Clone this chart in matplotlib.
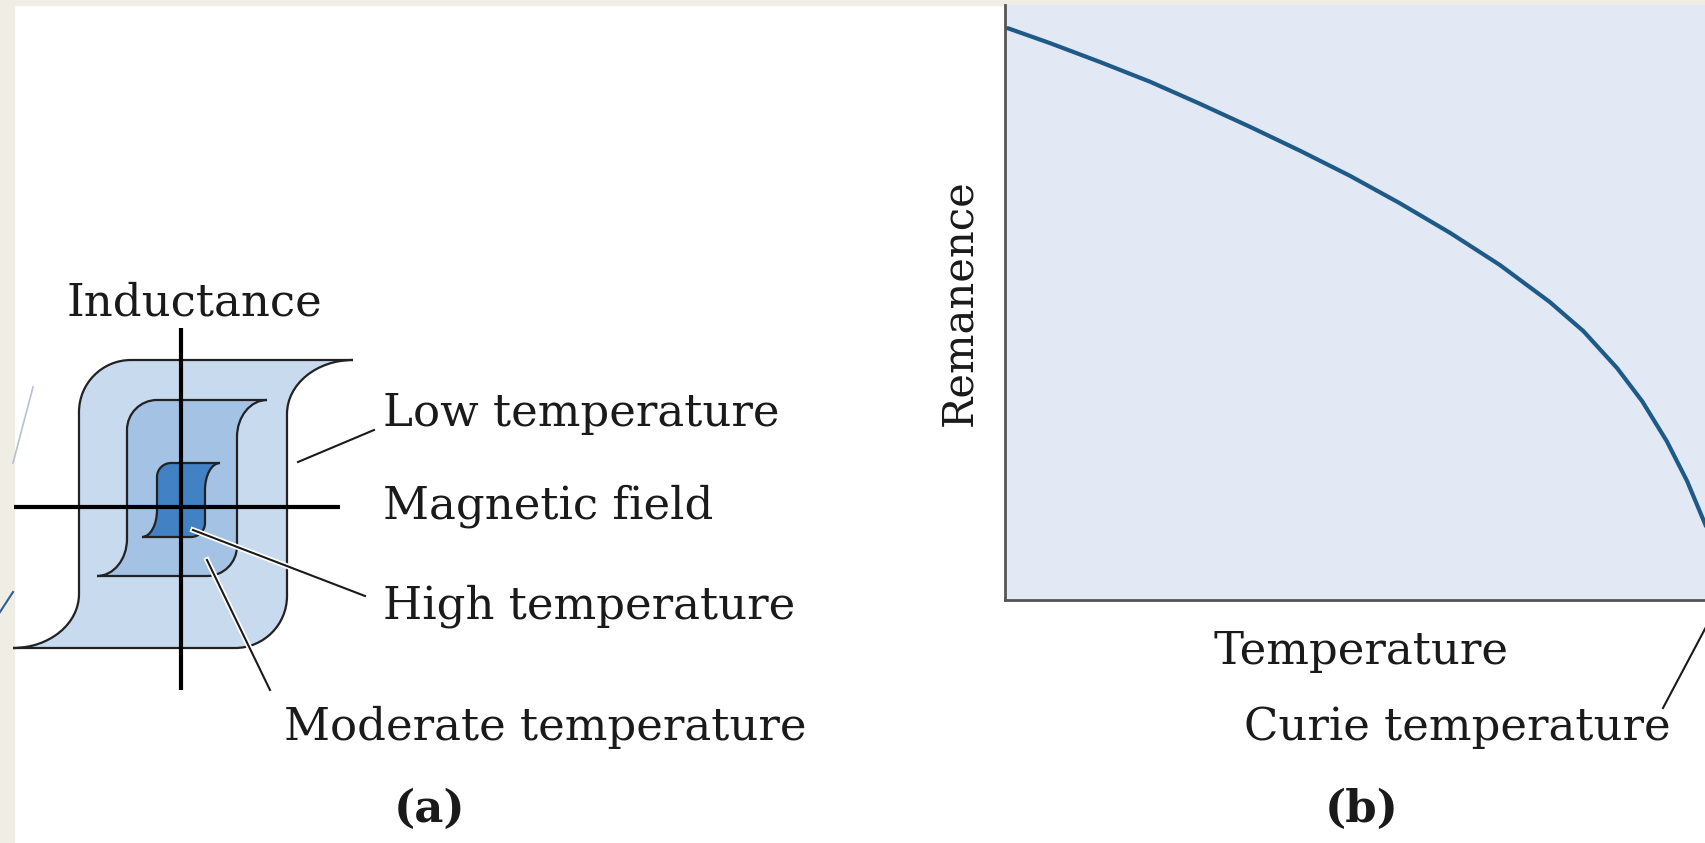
import matplotlib.pyplot as plt
from matplotlib.path import Path
from matplotlib.patches import PathPatch, Rectangle
import matplotlib.patheffects as pe

# (b) remanence curve (T and remanence in axis fractions)
temperature = [0.004, 0.064, 0.136, 0.207, 0.278, 0.350, 0.421, 0.492, 0.563,
               0.635, 0.706, 0.777, 0.825, 0.873, 0.909, 0.944, 0.973, 1.000, 1.020]
remanence = [0.961, 0.936, 0.904, 0.871, 0.834, 0.795, 0.755, 0.713, 0.667,
             0.617, 0.563, 0.501, 0.452, 0.390, 0.334, 0.267, 0.200, 0.124, 0.061]

# (a) hysteresis loops: half width, half height, tip reach, tip drop, corner
loop_names = ['Low temperature', 'Moderate temperature', 'High temperature']
loop_w = [104, 55, 24]
loop_h = [144, 88, 37]
loop_tip = [170, 85, 39]
loop_drop = [54, 37, 27]
loop_corner = [52, 30, 14]
loop_center = [(183, 504), (182, 488), (181, 500)]
loop_colors = ['#c7daee', '#a4c2e3', '#4281c4']

FONT = 'DejaVu Serif'
FS = 32.4
INK = '#1a1a1a'

fig = plt.figure(figsize=(17.06, 8.43), dpi=100)
fig.patch.set_facecolor('white')

# whole-figure layer in pixel units for the drawing in (a) and the labels
ax = fig.add_axes([0, 0, 1, 1])
ax.set_xlim(0, 1706)
ax.set_ylim(843, 0)
ax.axis('off')

# slide frame
ax.add_patch(Rectangle((0, 0), 14, 843, color='#f0ede4', zorder=0))
ax.add_patch(Rectangle((0, 0), 1706, 5, color='#f0ede4', zorder=0))
ax.plot([13, 33], [463, 387], color='#b4c2d4', lw=1.2, zorder=1)
ax.plot([0, 13], [612, 592], color='#2f5d99', lw=1.5, zorder=1)


def loop_path(cx, cy, w, h, t, d, r):
    k = 0.5523
    # y grows downward here, so "top" is cy - h
    verts = [
        (cx - t, cy + h),
        (cx - t + k * (t - w), cy + h), (cx - w, cy + h - d + k * d), (cx - w, cy + h - d),
        (cx - w, cy - h + r),
        (cx - w, cy - h + r - k * r), (cx - w + r - k * r, cy - h), (cx - w + r, cy - h),
        (cx + t, cy - h),
        (cx + t - k * (t - w), cy - h), (cx + w, cy - h + d - k * d), (cx + w, cy - h + d),
        (cx + w, cy + h - r),
        (cx + w, cy + h - r + k * r), (cx + w - r + k * r, cy + h), (cx + w - r, cy + h),
        (cx - t, cy + h),
    ]
    codes = ([Path.MOVETO] + [Path.CURVE4] * 3 + [Path.LINETO] + [Path.CURVE4] * 3
             + [Path.LINETO] + [Path.CURVE4] * 3 + [Path.LINETO] + [Path.CURVE4] * 3
             + [Path.LINETO])
    return Path(verts, codes)


for i in range(len(loop_names)):
    cx, cy = loop_center[i]
    p = loop_path(cx, cy, loop_w[i], loop_h[i], loop_tip[i], loop_drop[i], loop_corner[i])
    ax.add_patch(PathPatch(p, facecolor=loop_colors[i], edgecolor='#222222',
                           lw=1.6, zorder=2 + i))

# field / inductance axes
ax.plot([14, 340], [507, 507], color='black', lw=3, zorder=6, solid_capstyle='butt')
ax.plot([181, 181], [328, 690], color='black', lw=3, zorder=6, solid_capstyle='butt')

# leader lines
halo = [pe.Stroke(linewidth=4, foreground='white'), pe.Normal()]
ax.plot([298, 374], [462, 430], color=INK, lw=1.5, zorder=7)
ax.plot([193, 365], [530, 596], color=INK, lw=1.5, zorder=7, path_effects=halo)
ax.plot([207, 270], [560, 690], color=INK, lw=1.5, zorder=7, path_effects=halo)
ax.plot([1663, 1706], [708, 627], color=INK, lw=1.5, zorder=7)

txt = dict(fontfamily=FONT, fontsize=FS, color=INK, va='baseline')
ax.text(67, 315, 'Inductance', **txt)
ax.text(383, 426, 'Low temperature', **txt)
ax.text(383, 519, 'Magnetic field', **txt)
ax.text(383, 619, 'High temperature', **txt)
ax.text(284, 740, 'Moderate temperature', **txt)
ax.text(430, 822, '(a)', ha='center', fontweight='bold', **txt)
ax.text(1214, 664, 'Temperature', **txt)
ax.text(1244, 740, 'Curie temperature', **txt)
ax.text(1362, 822, '(b)', ha='center', fontweight='bold', **txt)

# (b) remanence vs temperature
axb = fig.add_axes([1005 / 1706, (843 - 600) / 843, 701 / 1706, 595 / 843])
axb.set_facecolor('#e2e9f4')
axb.plot(temperature, remanence, color='#1d5a87', lw=3, solid_capstyle='round',
         solid_joinstyle='round')
axb.set_xlim(0, 1)
axb.set_ylim(0, 1)
axb.set_xticks([])
axb.set_yticks([])
for s in ['top', 'right']:
    axb.spines[s].set_visible(False)
for s in ['left', 'bottom']:
    axb.spines[s].set_color('#555555')
    axb.spines[s].set_linewidth(2)
axb.set_ylabel('Remanence', fontfamily=FONT, fontsize=30, color=INK, labelpad=18)

fig.savefig('out.png', dpi=100)
